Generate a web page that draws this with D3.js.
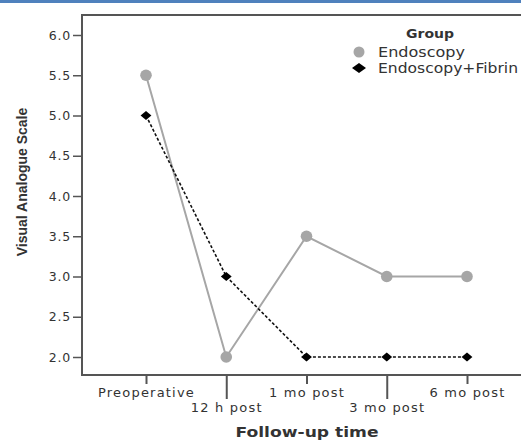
<!DOCTYPE html>
<html>
<head>
<meta charset="utf-8">
<script src="https://cdn.jsdelivr.net/npm/d3@7"></script>
<style>
  body { margin: 0; background: #fff; }
  text { font-family: "DejaVu Sans", sans-serif; fill: #333; }
</style>
</head>
<body>
<svg id="chart"></svg>
<script>
const periods = ["Preoperative", "12 h post", "1 mo post", "3 mo post", "6 mo post"];
const endoscopy = [5.5, 2.0, 3.5, 3.0, 3.0];
const fibrin = [5.0, 3.0, 2.0, 2.0, 2.0];
const yTicks = [2.0, 2.5, 3.0, 3.5, 4.0, 4.5, 5.0, 5.5, 6.0];
const groups = ["Endoscopy", "Endoscopy+Fibrin"];

const width = 521;
const height = 442;

const svg = d3.select("#chart")
    .attr("width", width)
    .attr("height", height)
    .attr("viewBox", [0, 0, width, height]);

// blue band along the top
svg.append("rect")
    .attr("x", 0).attr("y", 0)
    .attr("width", width).attr("height", 3)
    .attr("fill", "#4f81bd");

const plotLeft = 82, plotTop = 15, plotBottom = 375;

const x = d3.scalePoint()
    .domain(periods)
    .range([146, 467]);

const y = d3.scaleLinear()
    .domain([2.0, 6.0])
    .range([357, 35]);

// frame: top and left edges plus bottom axis line
svg.append("path")
    .attr("d", `M${width},${plotTop}H${plotLeft}V${plotBottom}H${width}`)
    .attr("fill", "none")
    .attr("stroke", "#555")
    .attr("stroke-width", 2);

// y axis
const yAxis = svg.append("g")
    .attr("transform", `translate(${plotLeft},0)`)
    .call(d3.axisLeft(y).tickValues(yTicks).tickFormat(d3.format(".1f")).tickSize(9).tickPadding(2));
yAxis.select(".domain").remove();
yAxis.selectAll(".tick line").attr("stroke", "#555").attr("stroke-width", 1.5);
yAxis.selectAll(".tick text")
    .attr("font-size", 12.5)
    .attr("letter-spacing", 0.8)
    .style("font-family", "DejaVu Sans, sans-serif")
    .attr("fill", "#444");

// x axis with alternating label rows
const xAxis = svg.append("g")
    .attr("transform", `translate(0,${plotBottom})`)
    .call(d3.axisBottom(x).tickSize(0).tickPadding(0));
xAxis.select(".domain").remove();
xAxis.selectAll(".tick line").remove();
xAxis.selectAll(".tick").each(function(d, i) {
    const g = d3.select(this);
    g.append("line")
        .attr("y1", 0).attr("y2", i % 2 === 0 ? 9 : 24)
        .attr("stroke", "#555").attr("stroke-width", 2);
    g.select("text")
        .attr("y", i % 2 === 0 ? 22 : 37)
        .attr("dy", 0)
        .attr("font-size", 13)
        .attr("letter-spacing", 1.2)
        .style("font-family", "DejaVu Sans, sans-serif")
        .attr("fill", "#444");
});

// axis titles
svg.append("text")
    .attr("x", 307).attr("y", 437)
    .attr("text-anchor", "middle")
    .attr("font-size", 14.5)
    .attr("font-weight", "bold")
    .attr("textLength", 143)
    .attr("lengthAdjust", "spacingAndGlyphs")
    .style("font-family", "DejaVu Sans, sans-serif")
    .attr("fill", "#111")
    .text("Follow-up time");

svg.append("text")
    .attr("transform", "translate(27,182) rotate(-90)")
    .attr("text-anchor", "middle")
    .attr("font-size", 14)
    .attr("font-weight", "bold")
    .style("font-family", "Liberation Sans Narrow, Liberation Sans, sans-serif")
    .attr("fill", "#111")
    .text("Visual Analogue Scale");

// series
const line = d3.line()
    .x((d, i) => x(periods[i]))
    .y(d => y(d));

svg.append("path")
    .datum(endoscopy)
    .attr("d", line)
    .attr("fill", "none")
    .attr("stroke", "#a6a6a6")
    .attr("stroke-width", 2);

svg.append("path")
    .datum(fibrin)
    .attr("d", line)
    .attr("fill", "none")
    .attr("stroke", "#111")
    .attr("stroke-width", 1.6)
    .attr("stroke-dasharray", "3,2");

svg.append("g")
    .selectAll("circle")
    .data(endoscopy)
    .join("circle")
        .attr("cx", (d, i) => x(periods[i]))
        .attr("cy", d => y(d))
        .attr("r", 5.8)
        .attr("fill", "#a6a6a6");

const diamond = d3.symbol().type(d3.symbolDiamond2).size(52);
svg.append("g")
    .selectAll("path")
    .data(fibrin)
    .join("path")
        .attr("transform", (d, i) => `translate(${x(periods[i])},${y(d)}) scale(1.2,1)`)
        .attr("d", diamond)
        .attr("fill", "#000");

// legend
const legend = svg.append("g");
legend.append("text")
    .attr("x", 430).attr("y", 38)
    .attr("text-anchor", "middle")
    .attr("font-size", 13)
    .attr("font-weight", "bold")
    .attr("textLength", 48)
    .attr("lengthAdjust", "spacingAndGlyphs")
    .style("font-family", "DejaVu Sans, sans-serif")
    .attr("fill", "#111")
    .text("Group");

const legendWidths = [87, 140];
const legendDiamond = d3.symbol().type(d3.symbolDiamond2).size(64);
groups.forEach((name, i) => {
    const cy = 52 + i * 16;
    if (i === 0) {
        legend.append("circle")
            .attr("cx", 359).attr("cy", cy).attr("r", 5.5)
            .attr("fill", "#a6a6a6");
    } else {
        legend.append("path")
            .attr("transform", `translate(359,${cy}) scale(1.4,1)`)
            .attr("d", legendDiamond)
            .attr("fill", "#000");
    }
    legend.append("text")
        .attr("x", 378).attr("y", cy + 5)
        .attr("font-size", 14)
        .attr("textLength", legendWidths[i])
        .attr("lengthAdjust", "spacingAndGlyphs")
        .attr("fill", "#444")
        .text(name);
});
</script>
</body>
</html>
